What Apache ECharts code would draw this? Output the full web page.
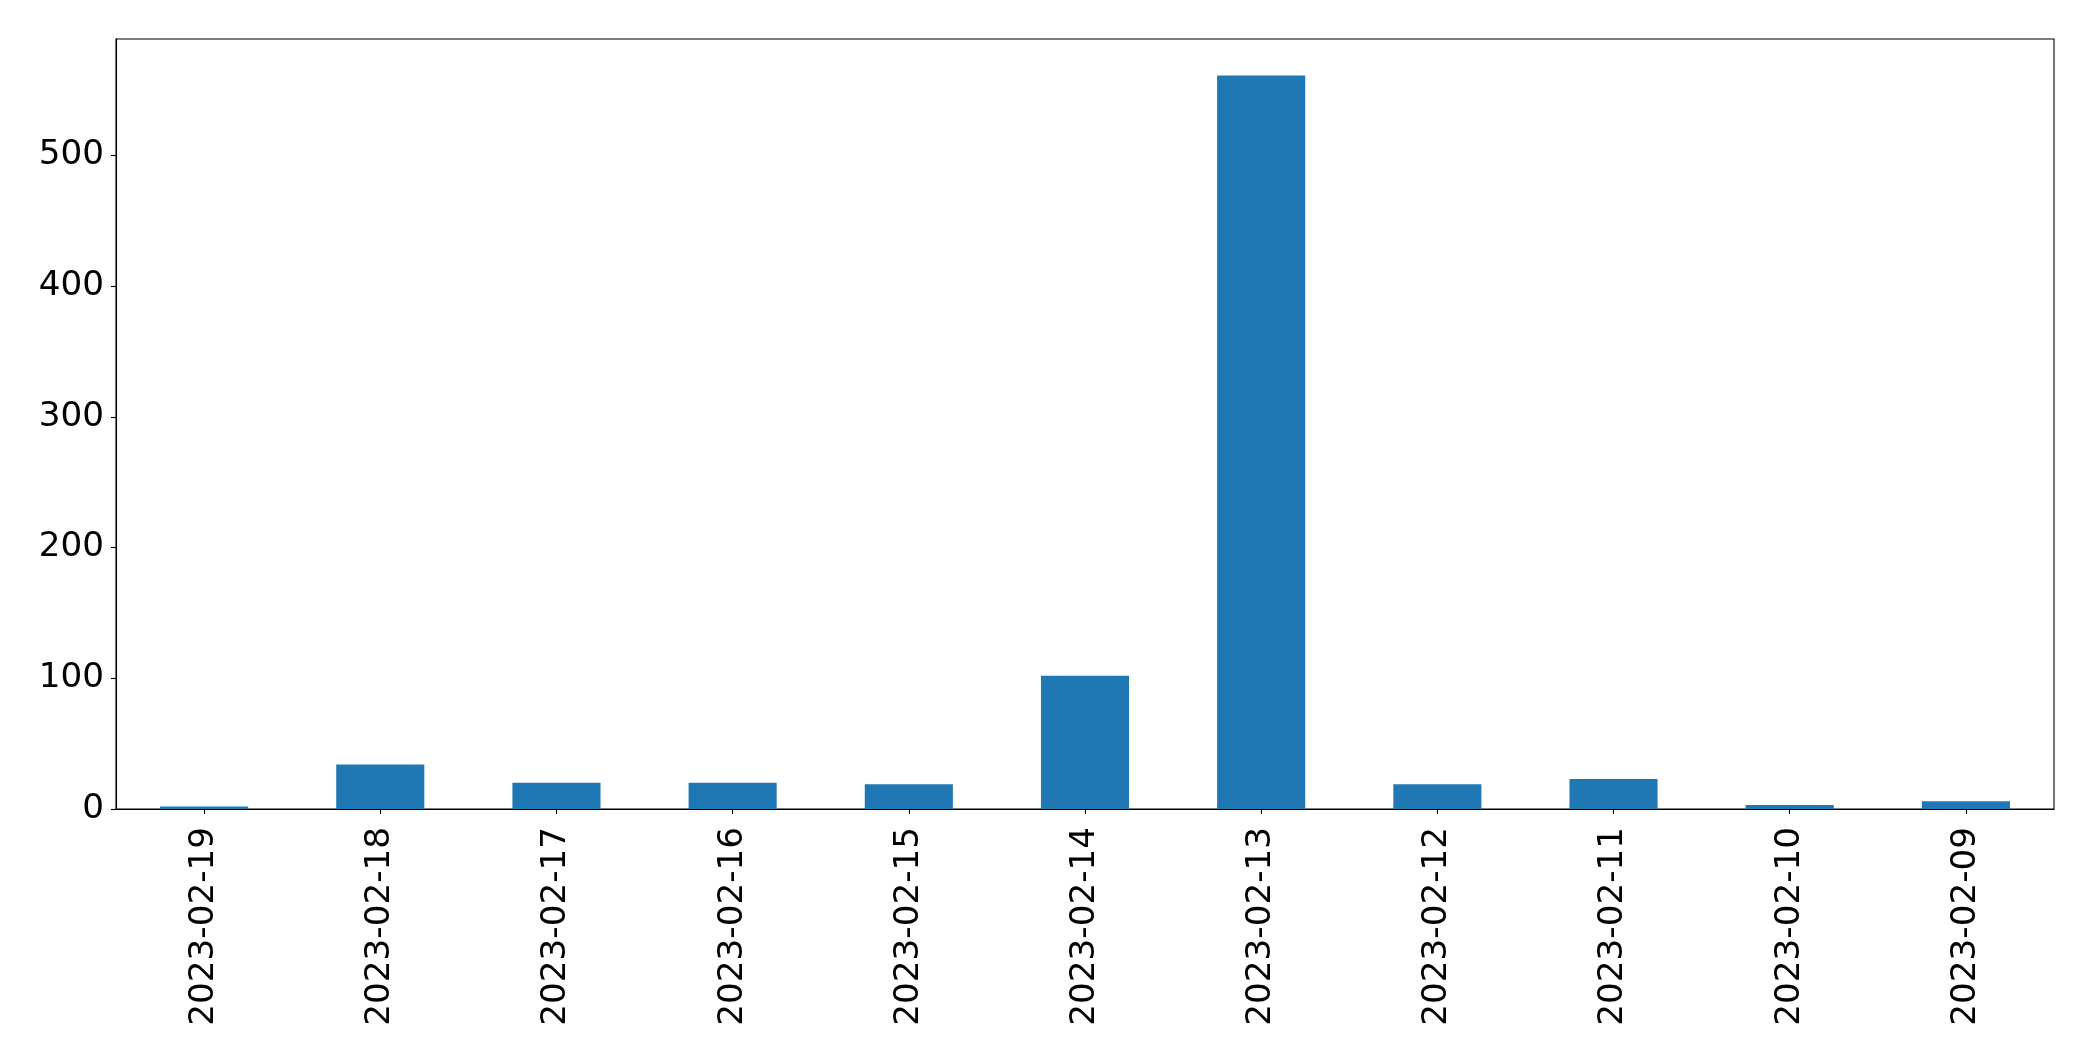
<!DOCTYPE html>
<html>
<head>
<meta charset="utf-8">
<script src="https://cdn.jsdelivr.net/npm/echarts@6/dist/echarts.min.js"></script>
<style>
html, body { margin: 0; padding: 0; background: #fff; }
#chart { width: 2093px; height: 1061px; }
</style>
</head>
<body>
<div id="chart"></div>
<script>
const categories = ['2023-02-19', '2023-02-18', '2023-02-17', '2023-02-16', '2023-02-15', '2023-02-14', '2023-02-13', '2023-02-12', '2023-02-11', '2023-02-10', '2023-02-09'];
const counts = [2, 34, 20, 20, 19, 102, 561, 19, 23, 3, 6];
const yTicks = [0, 100, 200, 300, 400, 500];

const chart = echarts.init(document.getElementById('chart'), null, { renderer: 'canvas' });
const font = 'DejaVu Sans';
chart.setOption({
  animation: false,
  backgroundColor: '#ffffff',
  grid: {
    left: 116, right: 39, top: 39, bottom: 252,
    show: true, borderColor: '#000000', borderWidth: 1.1, backgroundColor: 'transparent'
  },
  xAxis: {
    type: 'category',
    data: categories,
    boundaryGap: true,
    axisLine: { show: true, lineStyle: { color: '#000', width: 1.1 } },
    axisTick: { show: true, alignWithLabel: true, length: 5, lineStyle: { color: '#000', width: 1.1 } },
    axisLabel: { rotate: 90, interval: 0, margin: 18, color: '#000', fontFamily: font, fontSize: 34.2 },
    splitLine: { show: false }
  },
  yAxis: {
    type: 'value',
    min: 0,
    max: 589,
    interval: 100,
    axisLine: { show: true, lineStyle: { color: '#000', width: 1.1 } },
    axisTick: { show: true, length: 5, lineStyle: { color: '#000', width: 1.1 } },
    axisLabel: {
      margin: 12, color: '#000', fontFamily: font, fontSize: 34.2,
      padding: [5, 0, 0, 0],
      showMaxLabel: false,
      formatter: function (v) { return yTicks.indexOf(v) >= 0 ? String(v) : ''; }
    },
    splitLine: { show: false }
  },
  series: [{
    type: 'bar',
    data: counts,
    barWidth: '50%',
    itemStyle: { color: '#1f77b4' }
  }]
});
</script>
</body>
</html>
